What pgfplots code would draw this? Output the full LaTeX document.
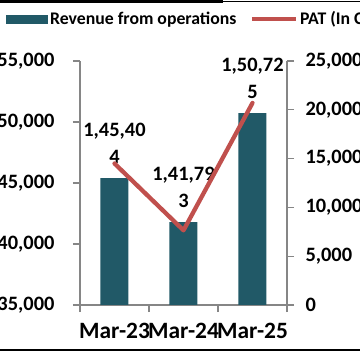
\documentclass[border=0pt]{standalone}
\usepackage{pgfplots}
\pgfplotsset{compat=1.18}
\usepackage{fontspec}
\setmainfont{Carlito}
\definecolor{barc}{HTML}{215967}
\definecolor{linec}{HTML}{C0504D}
\definecolor{axc}{HTML}{868686}
\newcommand\lbla{1,45,40\\4}
\newcommand\lblb{1,41,79\\3}
\newcommand\lblc{1,50,72\\5}
\begin{document}
\begin{tikzpicture}
\begin{axis}[
  scale only axis,
  width=207bp, height=244bp,
  xmin=-0.5, xmax=2.5, ymin=135000, ymax=155000,
  axis y line*=left, axis x line*=bottom,
  axis line style={draw=axc, line width=1.3bp},
  tick style={draw=axc, line width=1.3bp},
  major tick length=7bp, tick align=outside,
  xtick={-0.5,0.5,1.5,2.5}, x tick label as interval,
  xticklabels={Mar-23,Mar-24,Mar-25},
  ytick={135000,140000,145000,150000,155000},
  yticklabels={{1,35,000},{1,40,000},{1,45,000},{1,50,000},{1,55,000}},
  scaled y ticks=false,
  tick label style={font=\fontsize{20.5}{25}\selectfont\bfseries, text=black},
  yticklabel style={xshift=-15bp},
  xticklabel style={font=\fontsize{23.5}{28}\selectfont\bfseries, yshift=-8bp},
  clip mode=individual,
  legend style={at={(-0.372,1.172)}, anchor=west, draw=none, fill=none,
    legend columns=-1, font=\fontsize{17.8}{21}\selectfont\bfseries,
    /tikz/every even column/.append style={column sep=11bp}},
]
\addplot[ybar, fill=barc, draw=none, bar width=28bp,
  nodes near coords={\csname lbl\pgfplotspointmeta\endcsname},
  point meta=explicit symbolic,
  every node near coord/.append style={align=center,
    font=\fontsize{20.5}{27}\selectfont\bfseries, text=black,
    anchor=south, inner sep=0pt, yshift=14bp},
  legend image code/.code={\fill[barc] (0bp,-4.5bp) rectangle (42bp,4.5bp);}]
coordinates {(0,145404)[a] (1,141793)[b] (2,150725)[c]};
\addlegendentry{Revenue from operations}
\addlegendimage{legend image code/.code={\draw[linec, line width=4.5bp] (0bp,0bp) -- (44bp,0bp);}}
\addlegendentry{PAT (In Cr.)}
\end{axis}
\begin{axis}[
  scale only axis,
  width=207bp, height=244bp,
  xmin=-0.5, xmax=2.5, ymin=0, ymax=25000,
  axis y line*=right, axis x line=none,
  axis line style={draw=axc, line width=1.3bp},
  tick style={draw=axc, line width=1.3bp},
  major tick length=7bp, tick align=outside,
  ytick={0,5000,10000,15000,20000,25000},
  yticklabels={0,{5,000},{10,000},{15,000},{20,000},{25,000}},
  scaled y ticks=false,
  tick label style={font=\fontsize{20.5}{25}\selectfont\bfseries, text=black},
  yticklabel style={xshift=8bp},
]
\addplot[linec, line width=4.3bp, line cap=round, line join=round, mark=none]
coordinates {(0,14500) (1,7650) (2,20700)};
\end{axis}
\fill[black] (-80bp,305bp) rectangle (143bp,302bp);
\draw[black, line width=0.8bp] (143bp,304bp) -- (280bp,304bp);
\draw[black, line width=1.5bp] (-80bp,-45bp) -- (280bp,-45bp);
\pgfresetboundingbox
\useasboundingbox (-80bp,-51bp) rectangle (280bp,305bp);
\end{tikzpicture}
\end{document}
